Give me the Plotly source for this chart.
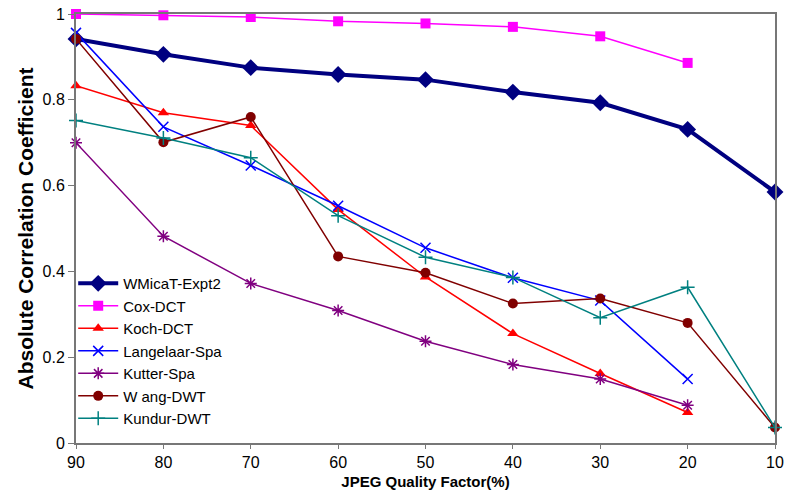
import plotly.graph_objects as go

quality = [90, 80, 70, 60, 50, 40, 30, 20, 10]

wmicat = [0.942, 0.906, 0.875, 0.859, 0.847, 0.818, 0.793, 0.731, 0.585]
cox = [1.0, 0.997, 0.993, 0.983, 0.978, 0.970, 0.948, 0.886]
koch = [0.833, 0.770, 0.740, 0.544, 0.387, 0.255, 0.162, 0.071]
langelaar = [0.956, 0.737, 0.647, 0.553, 0.455, 0.385, 0.332, 0.149]
kutter = [0.700, 0.482, 0.372, 0.309, 0.237, 0.183, 0.149, 0.088]
wang = [0.942, 0.701, 0.760, 0.435, 0.397, 0.325, 0.337, 0.280, 0.036]
kundur = [0.752, 0.711, 0.665, 0.530, 0.433, 0.386, 0.292, 0.363, 0.036]

x_ticks = [90, 80, 70, 60, 50, 40, 30, 20, 10]
y_ticks = [0, 0.2, 0.4, 0.6, 0.8, 1]
y_tick_text = ["0", "0.2", "0.4", "0.6", "0.8", "1"]

series = [
    ("WMicaT-Expt2", wmicat, "#000080", 4, "diamond", 13, 0),
    ("Cox-DCT", cox, "#FF00FF", 1.5, "square", 10, 0),
    ("Koch-DCT", koch, "#FF0000", 1.5, "triangle-up", 10, 0),
    ("Langelaar-Spa", langelaar, "#0000FF", 1.5, "x-thin-open", 10, 1.5),
    ("Kutter-Spa", kutter, "#800080", 1.5, "asterisk-open", 10, 1.5),
    ("W ang-DWT", wang, "#800000", 1.5, "circle", 10, 0),
    ("Kundur-DWT", kundur, "#008080", 1.5, "cross-thin-open", 10, 1.5),
]

fig = go.Figure()
for name, vals, color, w, sym, size, mlw in series:
    fig.add_trace(go.Scatter(
        x=quality[:len(vals)], y=vals, mode="lines+markers", name=name,
        line=dict(color=color, width=w),
        marker=dict(symbol=sym, size=size, color=color,
                    line=dict(color=color, width=mlw)),
        cliponaxis=False,
    ))

fig.update_layout(
    width=785, height=494,
    margin=dict(l=76, r=10, t=14, b=51),
    paper_bgcolor="white", plot_bgcolor="white",
    font=dict(family="Liberation Sans, Arial, sans-serif", color="black", size=15),
    showlegend=True,
    legend=dict(x=-0.004, y=0.41, xanchor="left", yanchor="top",
                bgcolor="rgba(0,0,0,0)", borderwidth=0,
                font=dict(size=15), itemwidth=40, tracegroupgap=0),
    xaxis=dict(
        range=[90, 10], tickvals=x_ticks, ticktext=[str(v) for v in x_ticks],
        showgrid=False, zeroline=False, automargin=False,
        showline=True, linecolor="#777777", linewidth=2, mirror=True,
        ticks="outside", ticklen=4, tickcolor="#777777",
        tickfont=dict(size=16),
        title=dict(text="<b>JPEG Quality Factor(%)</b>", font=dict(size=15), standoff=6),
    ),
    yaxis=dict(
        range=[0, 1], tickvals=y_ticks, ticktext=y_tick_text,
        showgrid=False, zeroline=False, automargin=False,
        showline=True, linecolor="#777777", linewidth=2, mirror=True,
        ticks="outside", ticklen=6, tickcolor="#777777",
        tickfont=dict(size=16),
        title=dict(text="<b>Absolute Correlation Coefficient</b>", font=dict(size=21), standoff=3),
    ),
)

fig.write_html("out.html")
